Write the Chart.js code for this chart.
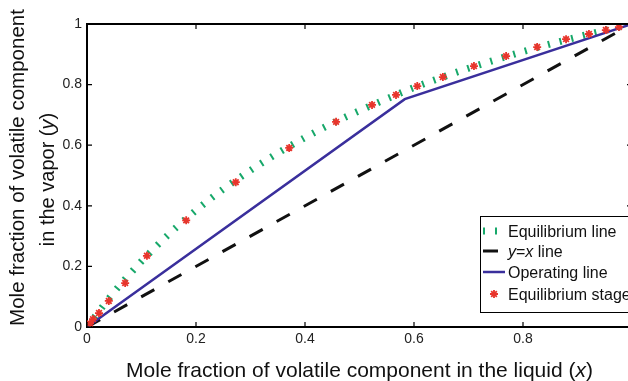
<!DOCTYPE html>
<html>
<head>
<meta charset="utf-8">
<script src="https://cdn.jsdelivr.net/npm/chart.js@4.4.1/dist/chart.umd.min.js"></script>
<style>
  html, body { margin: 0; padding: 0; background: #fff; overflow: hidden; }
  #wrap { width: 645px; height: 381px; }
</style>
</head>
<body>
<div id="wrap"><canvas id="chart" width="645" height="381"></canvas></div>
<script>
const FONT = "'Liberation Sans', Arial, Helvetica, sans-serif";

// ── Data ─────────────────────────────────────────────
// equilibrium curve
const eqX = [0, 0.05, 0.10, 0.15, 0.20, 0.25, 0.30, 0.35, 0.40, 0.45, 0.50,
             0.55, 0.60, 0.65, 0.70, 0.75, 0.80, 0.85, 0.90, 0.95, 1.00];
const eqY = [0, 0.116, 0.217, 0.306, 0.385, 0.455, 0.517, 0.574, 0.625, 0.672, 0.714,
             0.753, 0.790, 0.823, 0.854, 0.882, 0.909, 0.934, 0.957, 0.979, 1.000];
// equilibrium stages (stars)
const stageX = [0.976, 0.952, 0.921, 0.879, 0.826, 0.769, 0.710, 0.653, 0.606, 0.567, 0.523,
                0.457, 0.371, 0.273, 0.182, 0.110, 0.070, 0.040, 0.022, 0.011, 0.0055];
const stageY = [0.990, 0.980, 0.967, 0.950, 0.924, 0.894, 0.861, 0.825, 0.795, 0.766, 0.733,
                0.677, 0.591, 0.478, 0.352, 0.235, 0.145, 0.086, 0.046, 0.026, 0.012];
// operating line (two segments)
const opX = [0, 0.583, 1];
const opY = [0, 0.752, 1];
// y = x
const diagX = [0, 1];
const diagY = [0, 1];
const tickVals = [0, 0.2, 0.4, 0.6, 0.8, 1];

const GREEN = '#17a86a', BLUE = '#3a2f9c', RED = '#e8352c', BLACK = '#111';

const pts = (xs, ys) => xs.map((x, i) => ({ x, y: ys[i] }));

// ── text helpers (italic x / y) ──────────────────────
function fontStr(size, italic) { return (italic ? 'italic ' : '') + size + 'px ' + FONT; }
function richWidth(ctx, parts, size) {
    let w = 0;
    parts.forEach(p => { ctx.font = fontStr(size, p[1]); w += ctx.measureText(p[0]).width; });
    return w;
}
function drawRich(ctx, parts, x, y, size, align) {
    if (align === 'center') x -= richWidth(ctx, parts, size) / 2;
    ctx.textAlign = 'left';
    ctx.textBaseline = 'alphabetic';
    parts.forEach(p => {
        ctx.font = fontStr(size, p[1]);
        ctx.fillText(p[0], x, y);
        x += ctx.measureText(p[0]).width;
    });
}

const xTitle = [['Mole fraction of volatile component in the liquid (', false], ['x', true], [')', false]];
const yTitle1 = [['Mole fraction of volatile component', false]];
const yTitle2 = [['in the vapor (', false], ['y', true], [')', false]];

const legendRows = [
    { kind: 'eq',    parts: [['Equilibrium line', false]] },
    { kind: 'diag',  parts: [['y', true], ['=', false], ['x', true], [' line', false]] },
    { kind: 'op',    parts: [['Operating line', false]] },
    { kind: 'stage', parts: [['Equilibrium stage', false]] }
];

// ── box, inward ticks, titles, legend ───────────────
const matlabAxes = {
    id: 'matlabAxes',
    afterDatasetsDraw(chart) {
        const { ctx, chartArea: a, scales: { x, y } } = chart;
        ctx.save();
        ctx.strokeStyle = '#000';
        ctx.lineWidth = 2;
        ctx.beginPath();
        ctx.moveTo(a.left, a.top); ctx.lineTo(a.right, a.top); ctx.lineTo(a.right, a.bottom);
        ctx.stroke();
        ctx.lineWidth = 1.2;
        ctx.beginPath();
        tickVals.forEach(v => {
            const px = x.getPixelForValue(v), py = y.getPixelForValue(v);
            ctx.moveTo(px, a.bottom); ctx.lineTo(px, a.bottom - 5);
            ctx.moveTo(px, a.top);    ctx.lineTo(px, a.top + 5);
            ctx.moveTo(a.left, py);   ctx.lineTo(a.left + 5, py);
            ctx.moveTo(a.right, py);  ctx.lineTo(a.right - 5, py);
        });
        ctx.stroke();
        ctx.restore();
    },
    afterDraw(chart) {
        const { ctx, chartArea: a } = chart;
        ctx.save();
        ctx.fillStyle = '#111';
        // axis titles
        drawRich(ctx, xTitle, (a.left + a.right) / 2, 377, 21, 'center');
        const cy = (a.top + a.bottom) / 2;
        ctx.save(); ctx.translate(24, cy - 8); ctx.rotate(-Math.PI / 2);
        drawRich(ctx, yTitle1, 0, 0, 20.5, 'center'); ctx.restore();
        ctx.save(); ctx.translate(54, cy + 4); ctx.rotate(-Math.PI / 2);
        drawRich(ctx, yTitle2, 0, 0, 20, 'center'); ctx.restore();

        // legend
        const L = 480, T = 216, R = a.right - 2, B = 312;
        ctx.fillStyle = '#fff';
        ctx.fillRect(L, T, R - L, B - T);
        ctx.strokeStyle = '#000';
        ctx.lineWidth = 1;
        ctx.strokeRect(L + 0.5, T + 0.5, R - L, B - T);
        const base = [237, 257, 278, 300];
        legendRows.forEach((row, i) => {
            const sy = base[i] - 6;
            ctx.save();
            if (row.kind === 'eq') {
                ctx.strokeStyle = GREEN; ctx.lineWidth = 7; ctx.setLineDash([2, 10]);
                ctx.beginPath(); ctx.moveTo(483, sy); ctx.lineTo(505, sy); ctx.stroke();
            } else if (row.kind === 'diag') {
                ctx.strokeStyle = BLACK; ctx.lineWidth = 3;
                ctx.beginPath(); ctx.moveTo(483, sy); ctx.lineTo(498, sy); ctx.stroke();
            } else if (row.kind === 'op') {
                ctx.strokeStyle = BLUE; ctx.lineWidth = 2.5;
                ctx.beginPath(); ctx.moveTo(483, sy); ctx.lineTo(505, sy); ctx.stroke();
            } else {
                ctx.strokeStyle = RED; ctx.lineWidth = 1.8;
                Chart.helpers.drawPoint(ctx, { pointStyle: 'star', radius: 4, rotation: 0, borderWidth: 1.8 }, 494, sy);
            }
            ctx.restore();
            ctx.fillStyle = '#111';
            drawRich(ctx, row.parts, 508, base[i], 16);
        });
        ctx.restore();
    }
};

// MATLAB style labels: 0, 0.2 ... 1
const tickFmt = v => String(Math.round(v * 10) / 10);

const axisCommon = {
    type: 'linear', min: 0, max: 1,
    grid: { drawOnChartArea: false, drawTicks: false },
    border: { display: true, color: '#000', width: 2 },
    ticks: { stepSize: 0.2, color: '#222', font: { family: FONT, size: 14 }, callback: tickFmt }
};

new Chart(document.getElementById('chart'), {
    type: 'line',
    data: {
        datasets: [
            {
                label: 'Equilibrium stage', data: pts(stageX, stageY), showLine: false, order: 0,
                pointStyle: 'star', pointRadius: 4, pointBorderWidth: 1.8,
                pointBorderColor: RED, pointBackgroundColor: RED
            },
            {
                label: 'Operating line', data: pts(opX, opY), order: 1,
                borderColor: BLUE, borderWidth: 2.5, pointRadius: 0
            },
            {
                label: 'y=x line', data: pts(diagX, diagY), order: 2,
                borderColor: BLACK, borderWidth: 3, borderDash: [15, 16], pointRadius: 0
            },
            {
                label: 'Equilibrium line', data: pts(eqX, eqY), order: 3,
                borderColor: GREEN, borderWidth: 7, borderDash: [2, 10], borderCapStyle: 'butt',
                cubicInterpolationMode: 'monotone', pointRadius: 0
            }
        ]
    },
    options: {
        responsive: false,
        animation: false,
        layout: { padding: { top: 24, right: 13, left: 0, bottom: 0 } },
        plugins: { legend: { display: false }, tooltip: { enabled: false } },
        scales: {
            x: { ...axisCommon,
                 ticks: { ...axisCommon.ticks, padding: 4, callback: v => (v >= 1 ? '' : tickFmt(v)) },
                 afterFit: s => { s.height = 54; } },
            y: { ...axisCommon, ticks: { ...axisCommon.ticks, padding: 5 },
                 afterFit: s => { s.width = 87; } }
        }
    },
    plugins: [matlabAxes]
});
</script>
</body>
</html>
